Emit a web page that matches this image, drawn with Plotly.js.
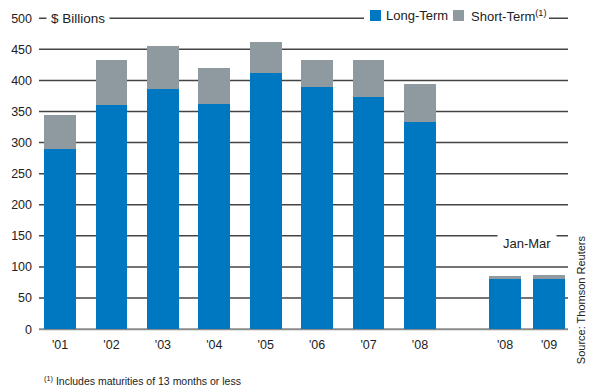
<!DOCTYPE html>
<html>
<head>
<meta charset="utf-8">
<script src="https://cdn.plot.ly/plotly-3.0.1.min.js"></script>
<style>html,body{margin:0;padding:0;background:#fff;}#chart{width:594px;height:390px;}</style>
</head>
<body>
<div id="chart"></div>
<script>
// Annual issuance ($ Billions)
const years = ["'01", "'02", "'03", "'04", "'05", "'06", "'07", "'08"];
const longTerm = [290, 360, 386, 362, 412, 390, 373, 333];
const shortTerm = [55, 73, 69, 58, 50, 43, 60, 61];
// Jan-Mar
const q1Labels = ["'08", "'09"];
const q1Long = [80, 80];
const q1Short = [5, 7];
const yTicks = [0, 50, 100, 150, 200, 250, 300, 350, 400, 450, 500];
const seriesNames = ['Long-Term', 'Short-Term<sup>(1)</sup>'];

const FONT = "'Liberation Sans Narrow', 'Arial Narrow', 'Liberation Sans', Arial, sans-serif";
const BLUE = '#0078C1';
const GRAY = '#8F9AA0';
const TXT = '#222';

const traces = [
  {type: 'bar', name: seriesNames[0], x: years, y: longTerm, xaxis: 'x', yaxis: 'y',
   marker: {color: BLUE}, width: 0.62, hoverinfo: 'skip'},
  {type: 'bar', name: seriesNames[1], x: years, y: shortTerm, xaxis: 'x', yaxis: 'y',
   marker: {color: GRAY}, width: 0.62, hoverinfo: 'skip'},
  {type: 'bar', name: seriesNames[0], x: q1Labels, y: q1Long, xaxis: 'x2', yaxis: 'y',
   marker: {color: BLUE}, width: 0.727, hoverinfo: 'skip'},
  {type: 'bar', name: seriesNames[1], x: q1Labels, y: q1Short, xaxis: 'x2', yaxis: 'y',
   marker: {color: GRAY}, width: 0.727, hoverinfo: 'skip'}
];

// gridlines (under the bars)
const shapes = yTicks.map(v => ({
  type: 'line', layer: 'below', xref: 'paper', yref: 'y',
  x0: 0, x1: 1, y0: v, y1: v,
  line: {color: v === 0 ? '#8a8a8a' : '#444', width: v === 0 ? 2 : 1.5}
}));
// legend: white band breaking the top line, then colour keys
shapes.push(
  {type: 'rect', layer: 'above', xref: 'paper', yref: 'paper', x0: 0.6144, x1: 0.9641,
   y0: 0.950, y1: 1.012, fillcolor: '#fff', line: {width: 0}},
  {type: 'rect', layer: 'above', xref: 'paper', yref: 'paper', x0: 0.6257, x1: 0.6465,
   y0: 0.9718, y1: 1.0063, fillcolor: BLUE, line: {width: 0}},
  {type: 'rect', layer: 'above', xref: 'paper', yref: 'paper', x0: 0.7826, x1: 0.8034,
   y0: 0.9718, y1: 1.0063, fillcolor: GRAY, line: {width: 0}}
);

const layout = {
  width: 594, height: 390,
  margin: {l: 39, r: 26, t: 12, b: 59, autoexpand: false},
  paper_bgcolor: '#fff', plot_bgcolor: 'rgba(0,0,0,0)',
  font: {family: FONT, size: 12, color: TXT},
  barmode: 'stack',
  showlegend: false,
  xaxis: {type: 'category', range: [-0.41, 9.88], showgrid: false, zeroline: false,
          showline: false, ticks: '', ticklabelstandoff: 4,
          tickfont: {family: FONT, size: 12.5, color: TXT}, fixedrange: true},
  xaxis2: {type: 'category', overlaying: 'x', anchor: 'y', side: 'bottom',
           range: [-10.59, 1.43], showgrid: false, zeroline: false, showline: false,
           ticks: '', ticklabelstandoff: 4,
           tickfont: {family: FONT, size: 12.5, color: TXT}, fixedrange: true},
  yaxis: {range: [-3, 510], tickvals: yTicks, showgrid: false, zeroline: false,
          showline: false, ticks: '', ticklabelstandoff: 6,
          tickfont: {family: FONT, size: 12.5, color: TXT}, fixedrange: true},
  shapes: shapes,
  annotations: [
    {text: '$ Billions', xref: 'paper', yref: 'y', x: 0.013, y: 500, xanchor: 'left',
     yanchor: 'middle', showarrow: false, bgcolor: '#fff', borderpad: 4,
     font: {family: FONT, size: 13.5, color: TXT}},
    {text: seriesNames[0], xref: 'paper', yref: 'paper', x: 0.652, y: 0.989, xanchor: 'left',
     yanchor: 'middle', showarrow: false, font: {family: FONT, size: 13, color: TXT}},
    {text: seriesNames[1], xref: 'paper', yref: 'paper', x: 0.813, y: 0.989, xanchor: 'left',
     yanchor: 'middle', showarrow: false, font: {family: FONT, size: 13, color: TXT}},
    {text: 'Jan-Mar', xref: 'paper', yref: 'y', x: 0.923, y: 138, xanchor: 'center',
     yanchor: 'middle', showarrow: false, bgcolor: '#fff', borderpad: 5,
     font: {family: FONT, size: 13, color: TXT}},
    {text: 'Source: Thomson Reuters', xref: 'paper', yref: 'paper', x: 1.026, y: 0.099,
     xanchor: 'center', yanchor: 'middle', textangle: -90, showarrow: false,
     font: {family: FONT, size: 11, color: TXT}},
    {text: '<sup>(1)</sup> Includes maturities of 13 months or less', xref: 'paper', yref: 'paper',
     x: 0.006, y: -0.155, xanchor: 'left', yanchor: 'middle', showarrow: false,
     font: {family: FONT, size: 10.5, color: TXT}}
  ]
};

Plotly.newPlot('chart', traces, layout, {displayModeBar: false, staticPlot: true});
</script>
</body>
</html>
